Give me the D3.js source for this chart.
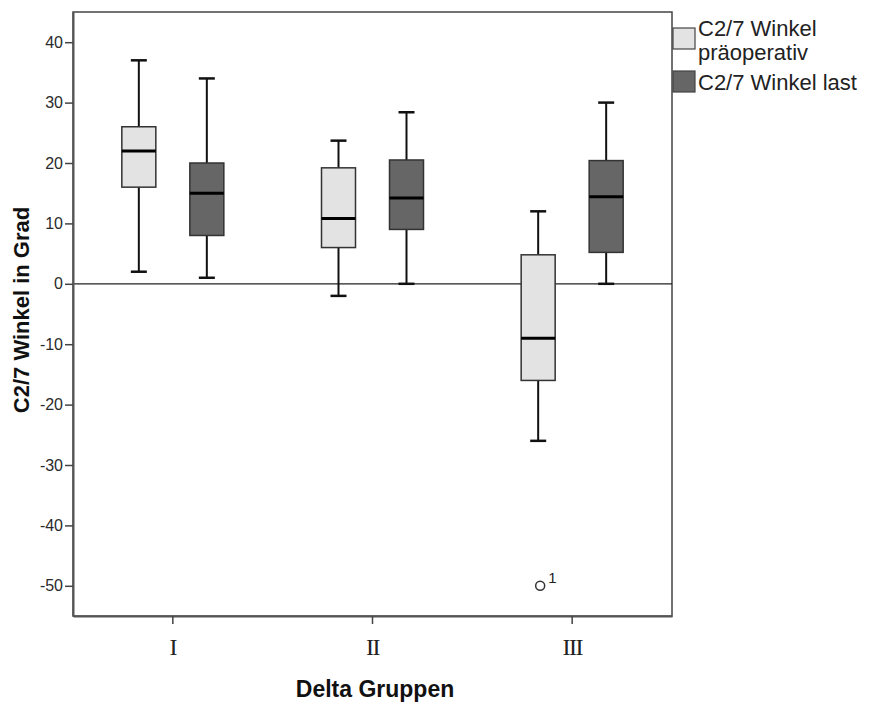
<!DOCTYPE html>
<html><head><meta charset="utf-8">
<script src="https://cdn.jsdelivr.net/npm/d3@7"></script>
<style>body{margin:0;background:#fff}svg{display:block}</style>
</head><body>
<script>
const groups = ["I", "II", "III"];
const seriesNames = ["C2/7 Winkel präoperativ", "C2/7 Winkel last"];
const seriesColors = ["#e3e3e3", "#666666"];
// [whiskerLow, q1, median, q3, whiskerHigh]
const preStats = [[2, 16, 22, 26, 37], [-2, 6, 10.8, 19.2, 23.7], [-26, -16, -9, 4.8, 12]];
const lastStats = [[1, 8, 15, 20, 34], [0, 9, 14.2, 20.5, 28.4], [0, 5.2, 14.4, 20.4, 30]];
const outliers = [{group: "III", series: 0, value: -50, label: "1"}];
const yTicks = [40, 30, 20, 10, 0, -10, -20, -30, -40, -50];

const W = 875, H = 702;
const m = {left: 73, right: 672, top: 12, bottom: 616};
const svg = d3.select("body").append("svg").attr("width", W).attr("height", H);

const x = d3.scaleBand().domain(groups).range([m.left, m.right]);
const y = d3.scaleLinear().domain([-55, 45]).range([m.bottom, m.top]);
const boxW = 34, offset = 34;

// frame
svg.append("rect").attr("x", m.left).attr("y", m.top).attr("width", m.right - m.left).attr("height", m.bottom - m.top)
  .attr("fill", "none").attr("stroke", "#444").attr("stroke-width", 1.5);

// zero line
svg.append("line").attr("x1", m.left).attr("x2", m.right).attr("y1", y(0)).attr("y2", y(0))
  .attr("stroke", "#222").attr("stroke-width", 1.2);

// y axis
const yAxis = svg.append("g").attr("transform", `translate(${m.left},0)`)
  .call(d3.axisLeft(y).tickValues(yTicks).tickSize(8).tickSizeOuter(0).tickPadding(2).tickFormat(d => String(d)));
yAxis.select(".domain").attr("stroke", "#555").attr("stroke-width", 2);
yAxis.selectAll(".tick line").attr("stroke", "#444").attr("stroke-width", 1.5);
yAxis.selectAll("text").attr("font-family", "Liberation Sans, Arial").attr("font-size", 16).attr("fill", "#2a2a2a");

// x axis
const xAxis = svg.append("g").attr("transform", `translate(0,${m.bottom})`)
  .call(d3.axisBottom(x).tickSize(8).tickSizeOuter(0).tickPadding(14));
xAxis.select(".domain").attr("stroke", "#555").attr("stroke-width", 2);
xAxis.selectAll(".tick line").attr("stroke", "#444").attr("stroke-width", 1.5);
xAxis.selectAll("text").attr("font-family", "Liberation Serif, Times New Roman").attr("font-size", 24)
  .attr("letter-spacing", -1.5).attr("fill", "#222");

// boxes
const allStats = [preStats, lastStats];
allStats.forEach((stats, si) => {
  stats.forEach((s, gi) => {
    const cx = x(groups[gi]) + x.bandwidth() / 2 + (si === 0 ? -offset : offset);
    const g = svg.append("g");
    g.append("line").attr("x1", cx).attr("x2", cx).attr("y1", y(s[0])).attr("y2", y(s[1]))
      .attr("stroke", "#111").attr("stroke-width", 2);
    g.append("line").attr("x1", cx).attr("x2", cx).attr("y1", y(s[3])).attr("y2", y(s[4]))
      .attr("stroke", "#111").attr("stroke-width", 2);
    [s[0], s[4]].forEach(v => g.append("line").attr("x1", cx - 8).attr("x2", cx + 8)
      .attr("y1", y(v)).attr("y2", y(v)).attr("stroke", "#111").attr("stroke-width", 2.5));
    g.append("rect").attr("x", cx - boxW / 2).attr("y", y(s[3])).attr("width", boxW)
      .attr("height", y(s[1]) - y(s[3])).attr("fill", seriesColors[si])
      .attr("stroke", "#333").attr("stroke-width", 1.5);
    g.append("line").attr("x1", cx - boxW / 2).attr("x2", cx + boxW / 2).attr("y1", y(s[2])).attr("y2", y(s[2]))
      .attr("stroke", "#000").attr("stroke-width", 3);
  });
});

// outliers
outliers.forEach(o => {
  const cx = x(o.group) + x.bandwidth() / 2 + (o.series === 0 ? -offset : offset);
  svg.append("circle").attr("cx", cx + 2).attr("cy", y(o.value)).attr("r", 4.5)
    .attr("fill", "none").attr("stroke", "#333").attr("stroke-width", 1.5);
  svg.append("text").attr("x", cx + 10).attr("y", y(o.value) - 3).text(o.label)
    .attr("font-family", "Liberation Sans, Arial").attr("font-size", 15).attr("fill", "#222");
});

// axis titles
svg.append("text").attr("transform", `translate(29,310) rotate(-90)`)
  .attr("text-anchor", "middle").attr("font-family", "Liberation Sans, Arial").attr("font-weight", "bold")
  .attr("font-size", 22).attr("fill", "#111").text("C2/7 Winkel in Grad");
svg.append("text").attr("x", 375).attr("y", 697)
  .attr("text-anchor", "middle").attr("font-family", "Liberation Sans, Arial").attr("font-weight", "bold")
  .attr("font-size", 23).attr("fill", "#111").text("Delta Gruppen");

// legend
const legend = svg.append("g");
const legendItems = [
  {lines: ["C2/7 Winkel", "präoperativ"], y: 28, base: 36},
  {lines: ["C2/7 Winkel last"], y: 71, base: 90}
];
legendItems.forEach((it, i) => {
  legend.append("rect").attr("x", m.right + 1).attr("y", it.y).attr("width", 22).attr("height", 21)
    .attr("fill", seriesColors[i]).attr("stroke", "#444").attr("stroke-width", 1.2);
  it.lines.forEach((t, li) => legend.append("text").attr("x", 698).attr("y", it.base + li * 24)
    .attr("font-family", "Liberation Sans, Arial").attr("font-size", 22).attr("fill", "#222").text(t));
});
</script>
</body></html>
